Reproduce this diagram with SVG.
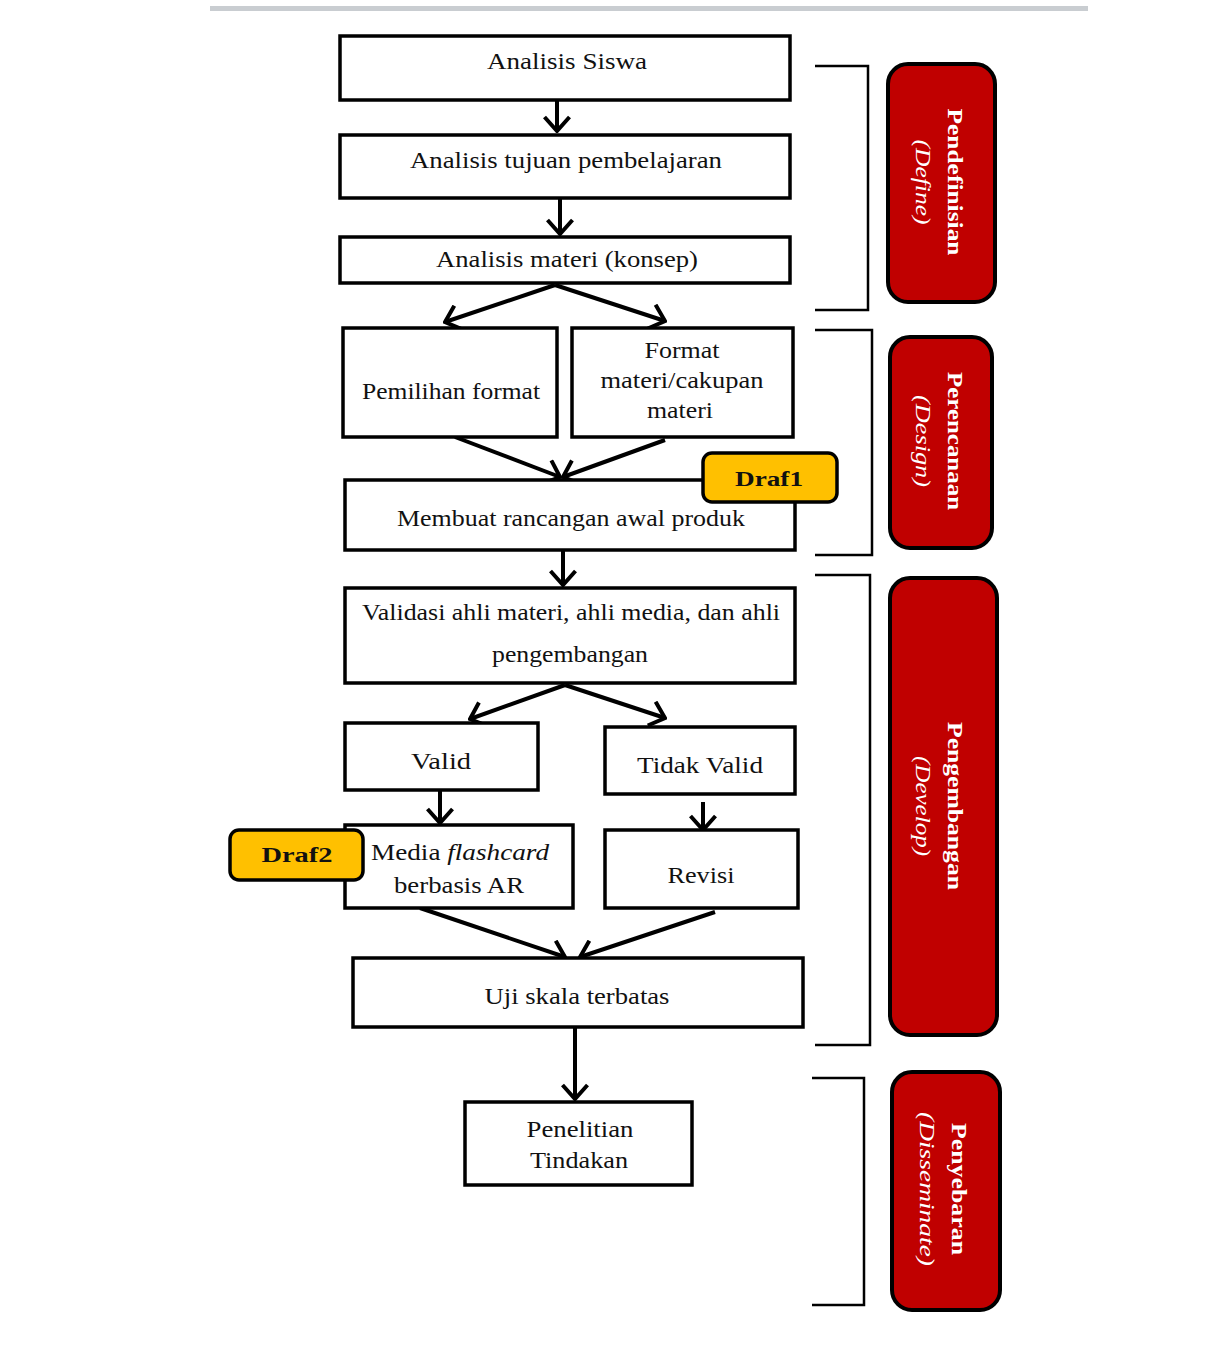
<svg xmlns="http://www.w3.org/2000/svg" width="1212" height="1359" viewBox="0 0 1212 1359">
<defs>
<style>
.box{fill:#fff;stroke:#000;stroke-width:3.5}
.phase{fill:#c00000;stroke:#000;stroke-width:4}
.draf{fill:#ffc000;stroke:#000;stroke-width:3.5}
.t{font-family:"Liberation Serif",serif;font-size:23px;fill:#111;text-anchor:middle}
.d{font-family:"Liberation Serif",serif;font-size:22px;font-weight:bold;fill:#111;text-anchor:middle}
.p1{font-family:"Liberation Serif",serif;font-size:20px;font-weight:bold;fill:#fff;text-anchor:middle}
.p2{font-family:"Liberation Serif",serif;font-size:20px;font-style:italic;fill:#fff;text-anchor:middle}
.c{fill:none;stroke:#000;stroke-width:4}
.br{fill:none;stroke:#000;stroke-width:2.5}
</style>
<marker id="ah" viewBox="0 0 18 28" refX="16" refY="14" markerWidth="18" markerHeight="28" markerUnits="userSpaceOnUse" orient="auto">
<path d="M2,1.5 L16,14 L2,26.5" fill="none" stroke="#000" stroke-width="4"/>
</marker>
</defs>
<rect width="1212" height="1359" fill="#fff"/>
<rect x="210" y="6" width="878" height="5" fill="#c9cdd1"/>

<g id="connectors">
<line class="c" x1="557" y1="100" x2="557" y2="131" marker-end="url(#ah)"/>
<line class="c" x1="560" y1="198" x2="560" y2="234" marker-end="url(#ah)"/>
<line class="c" x1="555" y1="285" x2="445" y2="322" marker-end="url(#ah)"/>
<line class="c" x1="555" y1="285" x2="665" y2="321" marker-end="url(#ah)"/>
<line class="c" x1="455" y1="437" x2="560" y2="477" marker-end="url(#ah)"/>
<line class="c" x1="665" y1="440" x2="563" y2="477" marker-end="url(#ah)"/>
<line class="c" x1="563" y1="550" x2="563" y2="585" marker-end="url(#ah)"/>
<line class="c" x1="565" y1="685" x2="470" y2="719" marker-end="url(#ah)"/>
<line class="c" x1="565" y1="685" x2="665" y2="718" marker-end="url(#ah)"/>
<line class="c" x1="440" y1="790" x2="440" y2="823" marker-end="url(#ah)"/>
<line class="c" x1="703" y1="802" x2="703" y2="830" marker-end="url(#ah)"/>
<line class="c" x1="420" y1="908" x2="565" y2="957" marker-end="url(#ah)"/>
<line class="c" x1="715" y1="912" x2="580" y2="957" marker-end="url(#ah)"/>
<line class="c" x1="575" y1="1027" x2="575" y2="1099" marker-end="url(#ah)"/>
<polyline class="br" points="815,66 868,66 868,310 815,310"/>
<polyline class="br" points="815,330 872,330 872,555 815,555"/>
<polyline class="br" points="815,575 870,575 870,1045 815,1045"/>
<polyline class="br" points="812,1078 864,1078 864,1305 812,1305"/>
</g>

<g id="n1"><rect class="box" x="340" y="36" width="450" height="64"/><text class="t" x="567" y="69" textLength="160" lengthAdjust="spacingAndGlyphs">Analisis Siswa</text></g>
<g id="n2"><rect class="box" x="340" y="135" width="450" height="63"/><text class="t" x="566" y="168" textLength="312" lengthAdjust="spacingAndGlyphs">Analisis tujuan pembelajaran</text></g>
<g id="n3"><rect class="box" x="340" y="237" width="450" height="46"/><text class="t" x="567" y="267" textLength="262" lengthAdjust="spacingAndGlyphs">Analisis materi (konsep)</text></g>
<g id="n4"><rect class="box" x="343" y="328" width="214" height="109"/><text class="t" x="451" y="399" textLength="178" lengthAdjust="spacingAndGlyphs">Pemilihan format</text></g>
<g id="n5"><rect class="box" x="572" y="328" width="221" height="109"/>
<text class="t" x="682" y="358" textLength="75" lengthAdjust="spacingAndGlyphs">Format</text>
<text class="t" x="682" y="388" textLength="163" lengthAdjust="spacingAndGlyphs">materi/cakupan</text>
<text class="t" x="680" y="418" textLength="66" lengthAdjust="spacingAndGlyphs">materi</text></g>
<g id="n6"><rect class="box" x="345" y="480" width="450" height="70"/><text class="t" x="571" y="526" textLength="348" lengthAdjust="spacingAndGlyphs">Membuat rancangan awal produk</text></g>
<g id="draf1"><rect class="draf" x="703" y="453" width="134" height="49" rx="9"/><text class="d" x="769" y="486" textLength="68" lengthAdjust="spacingAndGlyphs">Draf1</text></g>
<g id="n7"><rect class="box" x="345" y="588" width="450" height="95"/>
<text class="t" x="571" y="620" textLength="418" lengthAdjust="spacingAndGlyphs">Validasi ahli materi, ahli media, dan ahli</text>
<text class="t" x="570" y="662" textLength="156" lengthAdjust="spacingAndGlyphs">pengembangan</text></g>
<g id="n8"><rect class="box" x="345" y="723" width="193" height="67"/><text class="t" x="441" y="769" textLength="60" lengthAdjust="spacingAndGlyphs">Valid</text></g>
<g id="n9"><rect class="box" x="605" y="727" width="190" height="67"/><text class="t" x="700" y="773" textLength="126" lengthAdjust="spacingAndGlyphs">Tidak Valid</text></g>
<g id="n10"><rect class="box" x="345" y="825" width="228" height="83"/>
<text class="t" x="460" y="860" textLength="178" lengthAdjust="spacingAndGlyphs">Media <tspan font-style="italic">flashcard</tspan></text>
<text class="t" x="459" y="893" textLength="130" lengthAdjust="spacingAndGlyphs">berbasis AR</text></g>
<g id="draf2"><rect class="draf" x="230" y="830" width="133" height="50" rx="9"/><text class="d" x="297" y="862" textLength="71" lengthAdjust="spacingAndGlyphs">Draf2</text></g>
<g id="n11"><rect class="box" x="605" y="830" width="193" height="78"/><text class="t" x="701" y="883" textLength="67" lengthAdjust="spacingAndGlyphs">Revisi</text></g>
<g id="n12"><rect class="box" x="353" y="958" width="450" height="69"/><text class="t" x="577" y="1004" textLength="185" lengthAdjust="spacingAndGlyphs">Uji skala terbatas</text></g>
<g id="n13"><rect class="box" x="465" y="1102" width="227" height="83"/>
<text class="t" x="580" y="1137" textLength="107" lengthAdjust="spacingAndGlyphs">Penelitian</text>
<text class="t" x="579" y="1168" textLength="98" lengthAdjust="spacingAndGlyphs">Tindakan</text></g>

<g id="phase1"><rect class="phase" x="888" y="64" width="107" height="238" rx="20"/>
<g transform="translate(941,182) rotate(90)"><text class="p1" x="0" y="-7" textLength="147" lengthAdjust="spacingAndGlyphs">Pendefinisian</text><text class="p2" x="0" y="25" textLength="85" lengthAdjust="spacingAndGlyphs">(Define)</text></g></g>
<g id="phase2"><rect class="phase" x="890" y="337" width="102" height="211" rx="20"/>
<g transform="translate(941,441) rotate(90)"><text class="p1" x="0" y="-7" textLength="138" lengthAdjust="spacingAndGlyphs">Perencanaan</text><text class="p2" x="0" y="25" textLength="92" lengthAdjust="spacingAndGlyphs">(Design)</text></g></g>
<g id="phase3"><rect class="phase" x="890" y="578" width="107" height="457" rx="20"/>
<g transform="translate(941,806) rotate(90)"><text class="p1" x="0" y="-7" textLength="168" lengthAdjust="spacingAndGlyphs">Pengembangan</text><text class="p2" x="0" y="25" textLength="100" lengthAdjust="spacingAndGlyphs">(Develop)</text></g></g>
<g id="phase4"><rect class="phase" x="892" y="1072" width="108" height="238" rx="20"/>
<g transform="translate(945,1189) rotate(90)"><text class="p1" x="0" y="-7" textLength="132" lengthAdjust="spacingAndGlyphs">Penyebaran</text><text class="p2" x="0" y="25" textLength="154" lengthAdjust="spacingAndGlyphs">(Disseminate)</text></g></g>
</svg>
